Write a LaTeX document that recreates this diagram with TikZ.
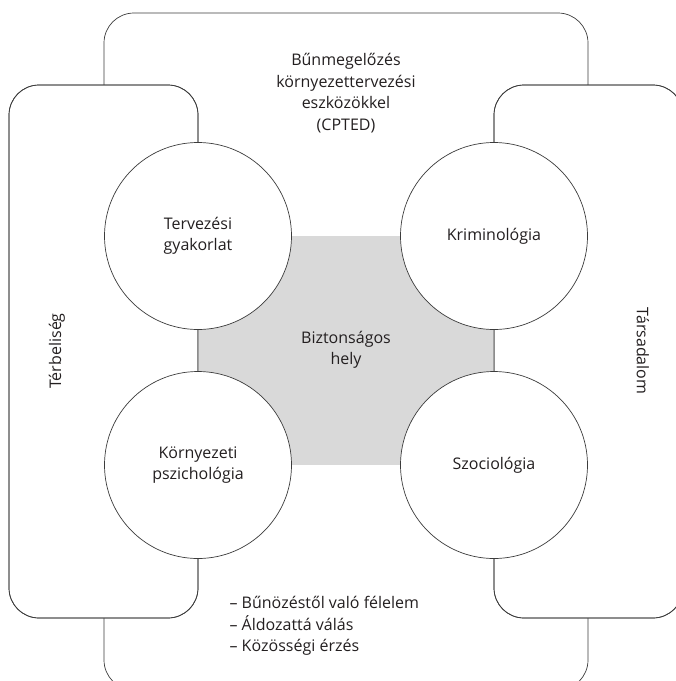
\documentclass[tikz,border=0pt]{standalone}
\usepackage{fontspec}
\setmainfont{Open Sans}
\definecolor{linegray}{HTML}{3C3C3C}
\definecolor{fieldgray}{HTML}{D9D9D9}
\definecolor{textgray}{HTML}{231F20}
\begin{document}
\begin{tikzpicture}
    [
    x=1pt, y=-1pt,
    panel/.style={draw=linegray, fill=white, line width=0.7pt, rounded corners=30pt},
    field/.style={circle, draw=linegray, fill=white, line width=0.7pt, inner sep=0pt, minimum size=187pt, align=center, text=textgray, font=\fontsize{16}{21.5}\selectfont},
    caption/.style={align=center, text=textgray, font=\fontsize{16}{21.5}\selectfont}
    ]
    \useasboundingbox (0,0) rectangle (676,681);
    \clip (0,0) rectangle (676,681);
    % outer frame and the two side frames
    \draw [panel] (104,13) rectangle (588,690);
    \draw [panel] (9,85) rectangle (198,618);
    \draw [panel] (494,85) rectangle (683,618);
    \fill [fieldgray] (198,236) rectangle (494,465);
    \draw [panel, fill=none] (9,85) rectangle (198,618);
    \draw [panel, fill=none] (494,85) rectangle (683,618);
    % the four disciplines
    \node (plan) at (198,236) [field] {Tervezési\\gyakorlat};
    \node (crim) at (494,236) [field] {Kriminológia};
    \node (envpsy) at (198,465) [field] {Környezeti\\pszichológia};
    \node (socio) at (494,465) [field] {Szociológia};
    % labels
    \node (safe) at (346,350) [caption] {Biztonságos\\hely};
    \node (cpted) at (346,93) [caption] {Bűnmegelőzés\\környezettervezési\\eszközökkel\\(CPTED)};
    \node (space) at (57,351) [caption, rotate=90] {Térbeliség};
    \node (society) at (643,351) [caption, rotate=-90] {Társadalom};
    \node (fears) at (226,626) [caption, anchor=west, align=left] {– Bűnözéstől való félelem\\– Áldozattá válás\\– Közösségi érzés};
  \end{tikzpicture}
\end{document}
